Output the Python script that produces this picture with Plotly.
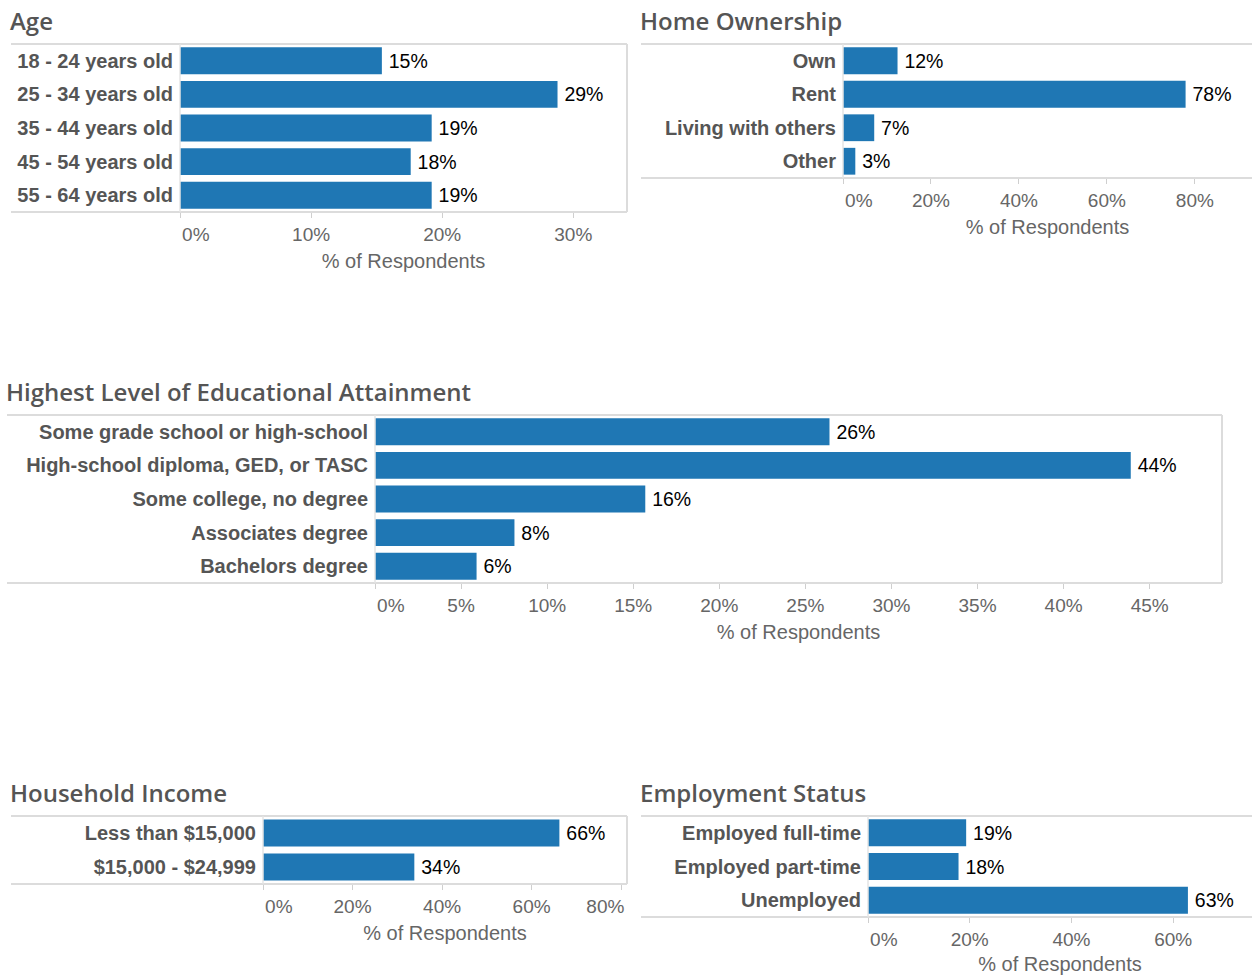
import plotly.graph_objects as go

W, H = 1252, 975

# ---- survey results (% of respondents) ----
AGE_LABELS = ["18 - 24 years old", "25 - 34 years old", "35 - 44 years old",
              "45 - 54 years old", "55 - 64 years old"]
AGE_PCT = [15.4, 28.8, 19.2, 17.6, 19.2]
AGE_TICKS = [0, 10, 20, 30]

HOME_LABELS = ["Own", "Rent", "Living with others", "Other"]
HOME_PCT = [12.4, 77.9, 7.1, 2.8]
HOME_TICKS = [0, 20, 40, 60, 80]

EDU_LABELS = ["Some grade school or high-school", "High-school diploma, GED, or TASC",
              "Some college, no degree", "Associates degree", "Bachelors degree"]
EDU_PCT = [26.4, 43.9, 15.7, 8.1, 5.9]
EDU_TICKS = [0, 5, 10, 15, 20, 25, 30, 35, 40, 45]

INCOME_LABELS = ["Less than $15,000", "$15,000 - $24,999"]
INCOME_PCT = [66.2, 33.8]
INCOME_TICKS = [0, 20, 40, 60, 80]

EMP_LABELS = ["Employed full-time", "Employed part-time", "Unemployed"]
EMP_PCT = [19.3, 17.8, 62.9]
EMP_TICKS = [0, 20, 40, 60]

AXIS_TITLE = "% of Respondents"

# ---- styling ----
BLUE = "#1f77b4"
TITLE_GRAY = "#555555"
LABEL_GRAY = "#555555"
TICK_GRAY = "#666666"
BORDER = "#dcdcdc"
SEP = "#e4e4e4"
BODY_FONT = "Arial, Liberation Sans, sans-serif"
TITLE_FONT = "Open Sans, sans-serif"
NB = "\u00a0"
THIN = "\u2009"

# panel frames in pixels: left edge, label/bar split, right edge, top, bottom
PANELS = [
    dict(title="Age", cats=AGE_LABELS, vals=AGE_PCT, ticks=AGE_TICKS,
         left=11, split=180, right=627, top=44, bottom=212, xmax=34.1,
         right_border=True, shift_first=True, shift_last=False),
    dict(title="Home Ownership", cats=HOME_LABELS, vals=HOME_PCT, ticks=HOME_TICKS,
         left=641, split=843, right=1252, top=44, bottom=178, xmax=93.0,
         right_border=False, shift_first=True, shift_last=False),
    dict(title="Highest Level of Educational Attainment", cats=EDU_LABELS, vals=EDU_PCT,
         ticks=EDU_TICKS, left=7, split=375, right=1222, top=415, bottom=583, xmax=49.2,
         right_border=True, shift_first=True, shift_last=False),
    dict(title="Household Income", cats=INCOME_LABELS, vals=INCOME_PCT, ticks=INCOME_TICKS,
         left=11, split=263, right=627, top=816, bottom=884, xmax=81.3,
         right_border=True, shift_first=True, shift_last=True),
    dict(title="Employment Status", cats=EMP_LABELS, vals=EMP_PCT, ticks=EMP_TICKS,
         left=641, split=868, right=1252, top=816, bottom=917, xmax=75.5,
         right_border=False, shift_first=True, shift_last=False),
]


def px(x):
    return x / W


def py(y):
    return 1 - y / H


fig = go.Figure()
shapes = []
annotations = []
layout_axes = {}

for i, p in enumerate(PANELS, start=1):
    xa = "x" if i == 1 else f"x{i}"
    ya = "y" if i == 1 else f"y{i}"
    fig.add_trace(go.Bar(
        x=p["vals"], y=p["cats"], orientation="h",
        marker=dict(color=BLUE, line=dict(width=0)),
        texttemplate=THIN + "%{x:.0f}%", textposition="outside",
        textfont=dict(family=BODY_FONT, size=19.5, color="#000000"),
        cliponaxis=False, xaxis=xa, yaxis=ya, hoverinfo="skip",
    ))

    ticktext = []
    for k, v in enumerate(p["ticks"]):
        t = f"{v}%"
        if k == 0 and p["shift_first"]:
            t = NB * 6 + t
        if k == len(p["ticks"]) - 1 and p["shift_last"]:
            t = t + NB * 6
        ticktext.append(t)

    layout_axes["xaxis" if i == 1 else f"xaxis{i}"] = dict(
        domain=[px(p["split"]), min(1.0, px(p["right"]))],
        anchor=ya, range=[0, p["xmax"]], automargin=False,
        showgrid=False, zeroline=False, showline=False,
        tickvals=p["ticks"], ticktext=ticktext,
        ticks="outside", ticklen=5, tickwidth=1, tickcolor="#cfcfcf",
        tickfont=dict(family=BODY_FONT, size=19, color=TICK_GRAY),
        title=dict(text=AXIS_TITLE, standoff=10,
                   font=dict(family=BODY_FONT, size=20, color=TICK_GRAY)),
        fixedrange=True,
    )
    layout_axes["yaxis" if i == 1 else f"yaxis{i}"] = dict(
        domain=[py(p["bottom"]), py(p["top"])],
        anchor=xa, autorange="reversed", automargin=False,
        showgrid=False, zeroline=False, showline=False,
        ticks="", ticklabelstandoff=6,
        tickfont=dict(family=BODY_FONT, size=20, color=LABEL_GRAY, weight="bold"),
        fixedrange=True,
    )

    # frame: top and bottom rules across the panel, split line, right edge
    shapes.append(dict(type="line", xref="paper", yref="paper",
                       x0=px(p["left"]), x1=px(p["right"]), y0=py(p["top"]), y1=py(p["top"]),
                       line=dict(color=BORDER, width=2)))
    shapes.append(dict(type="line", xref="paper", yref="paper",
                       x0=px(p["left"]), x1=px(p["right"]), y0=py(p["bottom"]), y1=py(p["bottom"]),
                       line=dict(color=BORDER, width=2)))
    shapes.append(dict(type="line", xref="paper", yref="paper",
                       x0=px(p["split"]), x1=px(p["split"]), y0=py(p["top"]), y1=py(p["bottom"]),
                       line=dict(color=SEP, width=1.5)))
    if p["right_border"]:
        shapes.append(dict(type="line", xref="paper", yref="paper",
                           x0=px(p["right"]), x1=px(p["right"]), y0=py(p["top"]), y1=py(p["bottom"]),
                           line=dict(color=BORDER, width=2)))

    annotations.append(dict(
        text=p["title"], xref="paper", yref="paper",
        x=px(p["left"] - 3), y=py(p["top"] - 23.5), xanchor="left", yanchor="middle",
        showarrow=False, font=dict(family=TITLE_FONT, size=24, color=TITLE_GRAY, weight=600),
    ))

fig.update_layout(
    width=W, height=H,
    margin=dict(l=0, r=0, t=0, b=0, autoexpand=False),
    paper_bgcolor="white", plot_bgcolor="white",
    showlegend=False, bargap=0.2,
    shapes=shapes, annotations=annotations,
    **layout_axes,
)

fig.write_html("out.html")
